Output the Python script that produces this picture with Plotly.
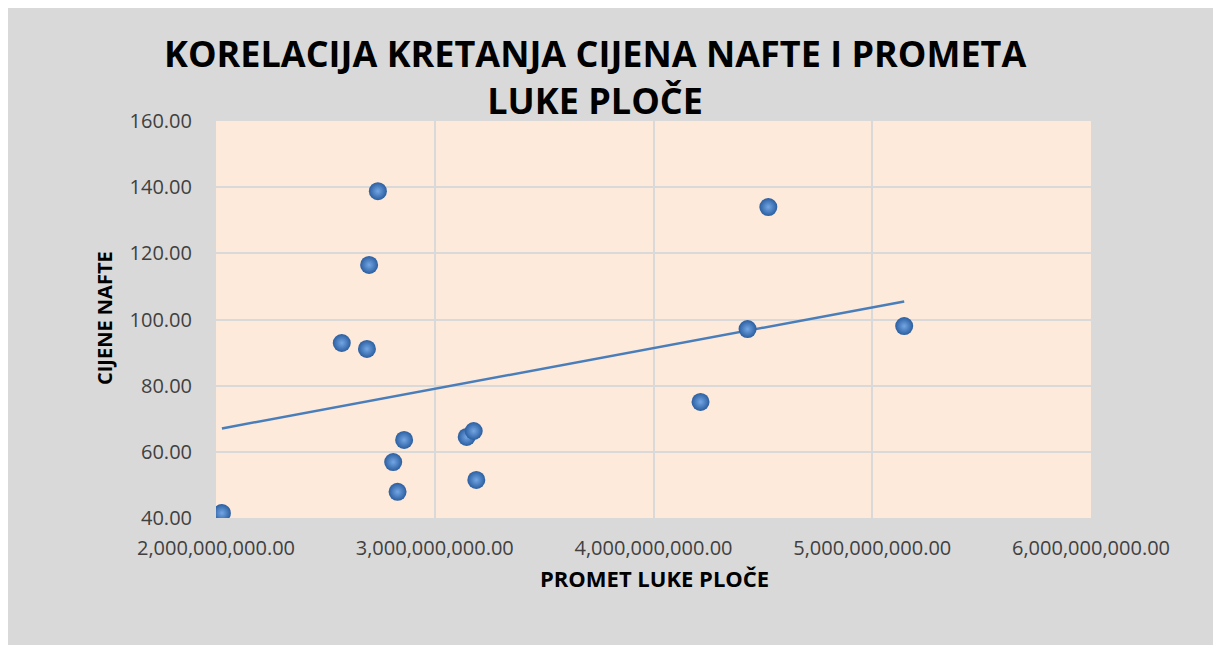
import numpy as np
import plotly.graph_objects as go

# Data
promet = [2.027e9, 2.74e9, 2.70e9, 2.575e9, 2.69e9, 2.81e9, 2.83e9, 2.86e9,
          3.146e9, 3.178e9, 3.19e9, 4.215e9, 4.43e9, 4.525e9, 5.146e9]
cijene = [41.5, 138.8, 116.5, 92.9, 91.1, 56.9, 47.9, 63.6,
          64.5, 66.3, 51.5, 75.1, 97.1, 134.0, 98.0]

x_ticks = [2e9, 3e9, 4e9, 5e9, 6e9]
y_ticks = [40, 60, 80, 100, 120, 140, 160]

title_lines = ["KORELACIJA KRETANJA CIJENA NAFTE I PROMETA", "LUKE PLOČE"]
x_title = "PROMET LUKE PLOČE"
y_title = "CIJENE NAFTE"

# Linear trendline (least squares) from the data
slope, intercept = np.polyfit(promet, cijene, 1)
tx = [min(promet), max(promet)]
ty = [slope * v + intercept for v in tx]

# The page places the figure at an 8px offset (body margin)
OFF = 8
W, H = 1221 - OFF, 645 - OFF
L, R, T, B = 216 - OFF, 1091 - OFF, 121 - OFF, 518 - OFF

def px_x(p):
    return (p - OFF - L) / (R - L)

def px_y(p):
    return (B - (p - OFF)) / (B - T)

fig = go.Figure()

fig.add_trace(go.Scatter(
    x=tx, y=ty, mode="lines",
    line=dict(color="#4a7ebb", width=2.5),
    hoverinfo="skip", showlegend=False,
))

fig.add_trace(go.Scatter(
    x=promet, y=cijene, mode="markers",
    marker=dict(size=18, color="#2a5e a0".replace(" ", ""),
                gradient=dict(type="radial", color="#74a6e4"),
                line=dict(width=0)),
    showlegend=False,
))

font_family = "Open Sans, Liberation Sans, sans-serif"

fig.update_layout(
    width=W, height=H,
    margin=dict(l=L, r=W - R, t=T, b=H - B),
    paper_bgcolor="#d9d9d9",
    plot_bgcolor="#fdeadb",
    font=dict(family=font_family, color="#404040", size=20),
    xaxis=dict(
        range=[2e9, 6e9], tickvals=x_ticks, tickformat=",.2f",
        showgrid=True, gridcolor="#d9d9d9", gridwidth=2,
        zeroline=False, showline=False, ticks="",
        ticklabelstandoff=16,
        tickfont=dict(size=20, color="#404040"),
    ),
    yaxis=dict(
        range=[40, 160], tickvals=y_ticks, tickformat=".2f",
        showgrid=True, gridcolor="#d9d9d9", gridwidth=2,
        zeroline=False, showline=False, ticks="",
        ticklabelstandoff=23,
        tickfont=dict(size=20, color="#404040"),
    ),
    annotations=[
        dict(text="<br>".join(title_lines), xref="paper", yref="paper",
             x=px_x(595), y=px_y(77), xanchor="center", yanchor="middle",
             showarrow=False, align="center",
             font=dict(family=font_family, size=36, color="black", weight="bold")),
        dict(text=x_title, xref="paper", yref="paper",
             x=px_x(654), y=px_y(578), xanchor="center", yanchor="middle",
             showarrow=False,
             font=dict(family=font_family, size=22, color="black", weight="bold")),
        dict(text=y_title, xref="paper", yref="paper",
             x=px_x(104), y=px_y(318), xanchor="center", yanchor="middle",
             showarrow=False, textangle=-90,
             font=dict(family=font_family, size=20, color="black", weight="bold")),
    ],
)

fig.write_html("out.html")
